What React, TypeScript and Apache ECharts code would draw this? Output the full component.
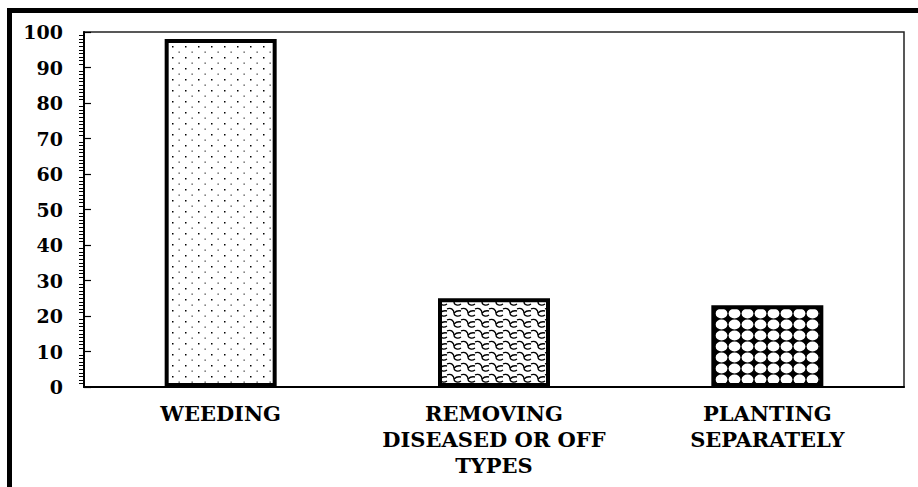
import React, { useEffect, useRef } from "react";
import * as echarts from "echarts";

const categories = ["WEEDING", "REMOVING\nDISEASED OR OFF\nTYPES", "PLANTING\nSEPARATELY"];
const values = [98, 25, 23];
const yMin = 0;
const yMax = 100;
const yStep = 10;

function makeCanvas(w: number, h: number) {
  const c = document.createElement("canvas");
  c.width = w;
  c.height = h;
  return c;
}

function dotsPattern() {
  const c = makeCanvas(13, 11);
  const g = c.getContext("2d")!;
  g.fillStyle = "#fff";
  g.fillRect(0, 0, 13, 11);
  g.fillStyle = "#000";
  g.fillRect(3, 2, 1.5, 1.5);
  g.fillStyle = "#444";
  g.fillRect(9.5, 7.5, 1.3, 1.3);
  return c;
}

function weavePattern() {
  const w = 14;
  const h = 11;
  const c = makeCanvas(w, h);
  const g = c.getContext("2d")!;
  g.fillStyle = "#fff";
  g.fillRect(0, 0, w, h);
  g.strokeStyle = "#000";
  g.lineWidth = 1.3;
  for (const dy of [-h, 0, h]) {
    for (const dx of [-w, 0, w]) {
      g.beginPath();
      g.moveTo(dx - 1, dy + 1);
      g.bezierCurveTo(dx + 3, dy - 1, dx + 6, dy + 2, dx + 6, dy + 5);
      g.bezierCurveTo(dx + 6, dy + 8, dx + 10, dy + 9, dx + 13, dy + 7);
      g.stroke();
      g.beginPath();
      g.moveTo(dx + 6, dy + 5);
      g.quadraticCurveTo(dx + 9, dy + 2, dx + 13, dy + 3);
      g.stroke();
    }
  }
  return c;
}

function circlesPattern() {
  const c = makeCanvas(13, 11);
  const g = c.getContext("2d")!;
  g.fillStyle = "#000";
  g.fillRect(0, 0, 13, 11);
  g.fillStyle = "#fff";
  g.beginPath();
  g.ellipse(6.5, 5.5, 5.9, 5.0, 0, 0, Math.PI * 2);
  g.fill();
  return c;
}

const FONT = "DejaVu Serif";

export default function App() {
  const ref = useRef<HTMLDivElement>(null);
  useEffect(() => {
    if (!ref.current) return;
    const chart = echarts.init(ref.current, null, { renderer: "svg" });
    const patterns = [dotsPattern(), weavePattern(), circlesPattern()];
    const option: any = {
      animation: false,
      backgroundColor: "#fff",
      grid: {
        left: 84,
        top: 32,
        right: 14,
        bottom: 100,
        show: true,
        borderColor: "#222",
        borderWidth: 1.5,
        backgroundColor: "transparent",
      },
      graphic: [
        {
          type: "rect",
          shape: { x: 9.5, y: 10.5, width: 2000, height: 2000 },
          style: { fill: "none", stroke: "#000", lineWidth: 5 },
          z: 100,
          silent: true,
        },
      ],
      xAxis: {
        type: "category",
        data: categories,
        axisLine: { show: true, lineStyle: { color: "#000", width: 2 } },
        axisTick: { show: false },
        axisLabel: {
          color: "#000",
          fontFamily: FONT,
          fontWeight: "bold",
          fontSize: 21,
          lineHeight: 26,
          margin: 13,
          interval: 0,
        },
        splitLine: { show: false },
      },
      yAxis: [
        {
          type: "value",
          position: "left",
          min: yMin,
          max: yMax,
          interval: yStep,
          axisLine: { show: true, lineStyle: { color: "#000", width: 2 } },
          axisTick: { show: true, inside: true, length: 7, lineStyle: { color: "#000", width: 1.2 } },
          axisLabel: {
            color: "#000",
            fontFamily: FONT,
            fontWeight: "bold",
            fontSize: 19,
            margin: 21,
          },
          splitLine: { show: false },
        },
        {
          type: "value",
          position: "left",
          min: yMin,
          max: yMax,
          interval: yStep,
          axisLine: { show: false },
          axisTick: { show: false },
          axisLabel: { show: false },
          splitLine: { show: false },
          minorTick: { show: true, splitNumber: 10, length: 5, lineStyle: { color: "#000", width: 1 } },
        },
      ],
      series: [
        {
          type: "bar",
          yAxisIndex: 0,
          barWidth: 112,
          data: values.map((v, i) => ({
            value: v,
            itemStyle: {
              color: { image: patterns[i], repeat: "repeat" },
              borderColor: "#000",
              borderWidth: 4,
            },
          })),
        },
      ],
    };
    chart.setOption(option);
    return () => chart.dispose();
  }, []);
  return (
    <div
      ref={ref}
      style={{ position: "fixed", left: 0, top: 0, width: 918, height: 487 }}
    />
  );
}
